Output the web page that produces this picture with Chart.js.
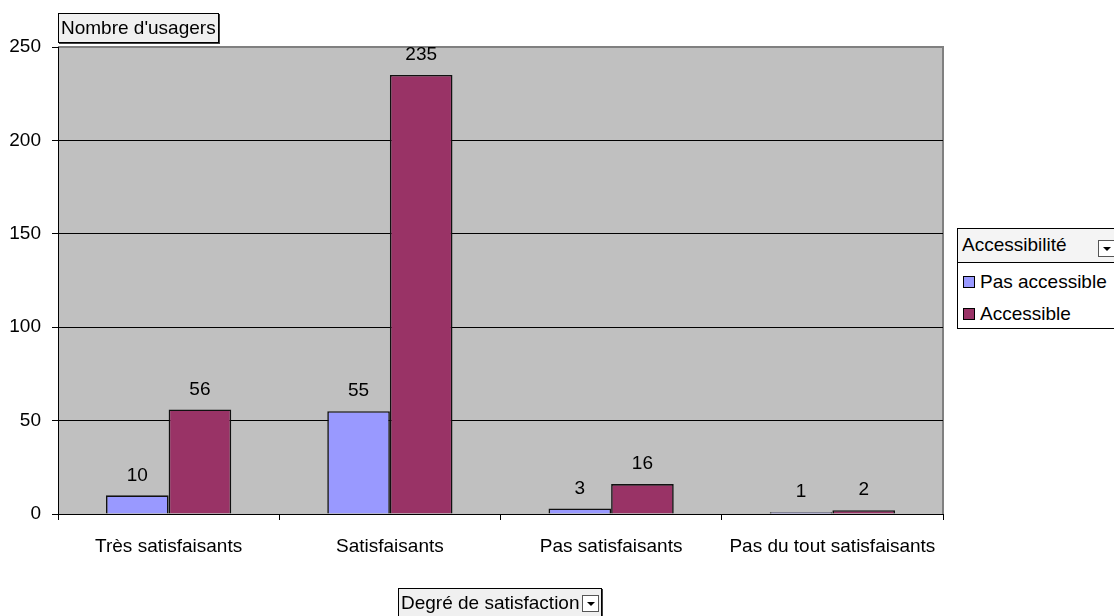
<!DOCTYPE html>
<html lang="fr">
<head>
<meta charset="utf-8">
<script src="https://cdn.jsdelivr.net/npm/chart.js@4.4.1/dist/chart.umd.min.js"></script>
<style>
  html, body { margin: 0; padding: 0; background: #fff; }
  body { width: 1114px; height: 616px; position: relative; overflow: hidden;
         font-family: 'Liberation Sans Narrow', 'Arial Narrow', 'Liberation Sans', sans-serif; color: #000; }
  #chart { position: absolute; left: 0; top: 0; }
  .field { position: absolute; background: #f0f0f0; border: 1px solid #000;
           box-shadow: 1px 1px 0 #404040; font-size: 19px; line-height: 28px; padding: 0 2px; white-space: nowrap; }
  .drop { display: inline-block; width: 15px; height: 15px; border: 1px solid #555; background: #fff;
          vertical-align: middle; position: relative; margin-left: 2px; }
  .drop::after { content: ''; position: absolute; left: 4px; top: 6px; border-left: 4px solid transparent;
                 border-right: 4px solid transparent; border-top: 4px solid #000; }
  #legend { position: absolute; left: 957px; top: 228px; width: 170px; height: 99px;
            border: 1px solid #000; background: #fff; font-size: 19px; }
  #legend .title { height: 33px; line-height: 32px; border-bottom: 1px solid #000; background: #f4f4f4; padding-left: 4px; position: relative; }
  #legend .title .drop { position: absolute; left: 140px; top: 11px; margin: 0; }
  #legend .item { height: 32px; line-height: 32px; padding-left: 5px; white-space: nowrap; }
  #legend .title + .item { margin-top: 3px; }
  #legend .sw { display: inline-block; width: 10px; height: 10px; border: 1px solid #000; margin-right: 5px; vertical-align: 0px; }
</style>
</head>
<body>
<canvas id="chart" width="1114" height="616"></canvas>
<div class="field" style="left:58px; top:13px;">Nombre d'usagers</div>
<div class="field" style="left:398px; top:588px; height:30px;">Degré de satisfaction<span class="drop"></span></div>
<div id="legend"></div>
<script>
const categories = ['Très satisfaisants', 'Satisfaisants', 'Pas satisfaisants', 'Pas du tout satisfaisants'];
const seriesNames = ['Pas accessible', 'Accessible'];
const pasAccessible = [10, 55, 3, 1];
const accessible = [56, 235, 16, 2];
const yTicks = [0, 50, 100, 150, 200, 250];
const colors = ['#9999ff', '#993366'];

const FONT = "'Liberation Sans Narrow', 'Arial Narrow', 'Liberation Sans', sans-serif";

// gray plot area with the darker frame on top and right
const plotFrame = {
  id: 'plotFrame',
  beforeDraw(chart) {
    const { ctx, chartArea: a } = chart;
    ctx.save();
    ctx.fillStyle = '#c0c0c0';
    ctx.fillRect(a.left, a.top, a.right - a.left, a.bottom - a.top);
    ctx.strokeStyle = '#808080';
    ctx.lineWidth = 2;
    ctx.beginPath();
    ctx.moveTo(a.left, a.top);
    ctx.lineTo(a.right, a.top);
    ctx.lineTo(a.right, a.bottom);
    ctx.stroke();
    ctx.restore();
  }
};

// value printed above each bar
const valueLabels = {
  id: 'valueLabels',
  afterDatasetsDraw(chart) {
    const { ctx } = chart;
    ctx.save();
    ctx.font = '19px ' + FONT;
    ctx.fillStyle = '#000';
    ctx.textAlign = 'center';
    ctx.textBaseline = 'middle';
    chart.data.datasets.forEach((ds, i) => {
      chart.getDatasetMeta(i).data.forEach((bar, j) => {
        ctx.fillText(String(ds.data[j]), bar.x, bar.y - 20);
      });
    });
    ctx.restore();
  }
};

const chart = new Chart(document.getElementById('chart'), {
  type: 'bar',
  data: {
    labels: categories,
    datasets: [
      { label: seriesNames[0], data: pasAccessible, backgroundColor: colors[0], borderColor: '#111', borderWidth: 1.6 },
      { label: seriesNames[1], data: accessible, backgroundColor: colors[1], borderColor: '#111', borderWidth: 1.6 },
    ],
  },
  options: {
    responsive: false,
    animation: false,
    layout: { padding: { top: 47, right: 171, bottom: 0, left: 0 } },
    datasets: { bar: { categoryPercentage: 0.566, barPercentage: 1 } },
    plugins: {
      legend: { display: false },
      tooltip: { enabled: false },
    },
    scales: {
      x: {
        offset: true,
        grid: { offset: true, drawOnChartArea: false, drawTicks: true, tickLength: 6, tickColor: '#000' },
        border: { color: '#000', width: 1 },
        ticks: { color: '#000', font: { family: FONT, size: 19 }, padding: 15, maxRotation: 0 },
        afterFit(scale) { scale.height = 102; },
      },
      y: {
        min: 0,
        max: 250,
        afterBuildTicks(scale) { scale.ticks = yTicks.map(v => ({ value: v })); },
        grid: {
          color: ctx => (ctx.tick && ctx.tick.value === 250 ? 'rgba(0,0,0,0)' : '#000'),
          tickColor: '#000',
          tickLength: 6,
        },
        border: { color: '#000', width: 1 },
        ticks: { color: '#000', font: { family: FONT, size: 19 }, padding: 11 },
        afterFit(scale) { scale.width = 58; },
      },
    },
  },
  plugins: [plotFrame, valueLabels],
});

// legend box built from the datasets
const legend = document.getElementById('legend');
let html = '<div class="title">Accessibilité<span class="drop"></span></div>';
chart.data.datasets.forEach(ds => {
  html += '<div class="item"><span class="sw" style="background:' + ds.backgroundColor + '"></span>' + ds.label + '</div>';
});
legend.innerHTML = html;
</script>
</body>
</html>
